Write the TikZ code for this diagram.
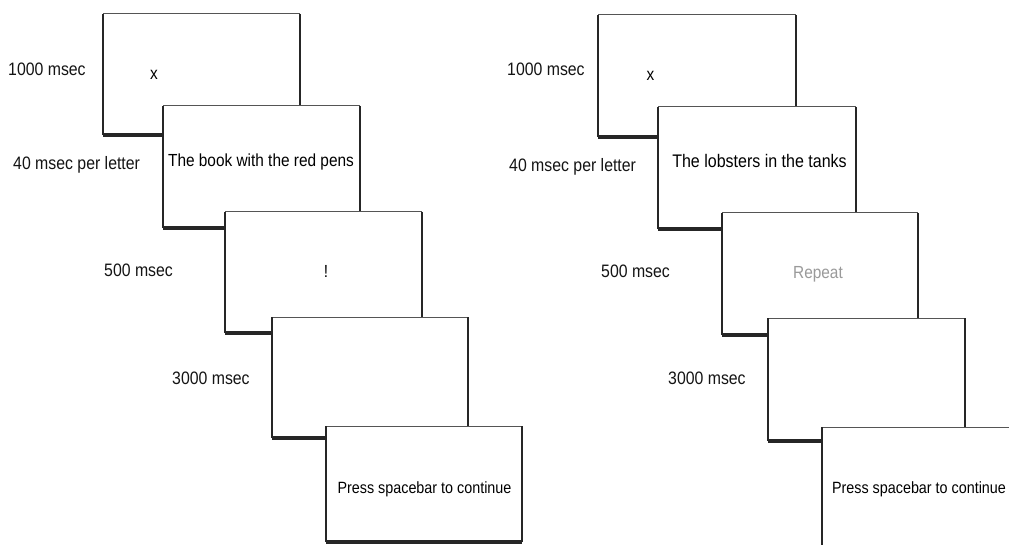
\documentclass[tikz,border=0pt]{standalone}
\usepackage{fontspec}
\setmainfont{Liberation Sans}
\newfontfamily\condfont[FakeStretch=0.88]{Liberation Sans}
\definecolor{edgedark}{HTML}{262626}
\definecolor{edgetop}{HTML}{555555}
\definecolor{repeatgray}{HTML}{9A9A9A}
\tikzset{
  screenbox/.style={fill=white, draw=none, inner sep=0pt, outer sep=0pt},
  topedge/.style={draw=edgetop, line width=1pt},
  sideedge/.style={draw=edgedark, line width=2.2pt, line cap=square},
  bottomedge/.style={draw=edgedark, line width=3.2pt, line cap=square},
  lbl/.style={font=\condfont\fontsize{18}{20}\selectfont, text=black!92, inner sep=0pt, anchor=base west},
  scrtxt/.style={font=\condfont\fontsize{17.5}{20}\selectfont, text=black, inner sep=0pt, anchor=base}
}
\newcommand\stimscreen[5]{%
  \node[screenbox, minimum width={(#4)-(#2)}, minimum height={(#5)-(#3)}] (#1) at ({((#2)+(#4))/2},{((#3)+(#5))/2}) {};
  \draw[topedge] (#1.north west) -- (#1.north east);
  \draw[sideedge] (#1.north west) -- (#1.south west);
  \draw[sideedge] (#1.north east) -- (#1.south east);
  \draw[bottomedge] (#1.south west) -- (#1.south east);
}
\begin{document}
\begin{tikzpicture}[x=1pt,y=-1pt]
\useasboundingbox (0,0) rectangle (1009,545);
\clip (0,0) rectangle (1009,545);
\fill[white] (0,0) rectangle (1009,545);
% left sequence
\stimscreen{L1}{103}{14}{300}{135}
\stimscreen{L2}{163}{106}{360}{228}
\stimscreen{L3}{225}{212}{422}{333}
\stimscreen{L4}{272}{317}{468}{438}
\stimscreen{L5}{326}{426}{522}{542}
% right sequence
\stimscreen{R1}{598}{15}{796}{137}
\stimscreen{R2}{658}{107}{856}{229}
\stimscreen{R3}{722}{213}{918}{335}
\stimscreen{R4}{768}{318}{965}{441}
\stimscreen{R5}{822}{427}{1019}{549}
% screen texts
\node[scrtxt] (tL1) at (154,80) {x};
\node[scrtxt] (tL2) at (261,167) {The book with the red pens};
\node[scrtxt] (tL3) at (326,278) {!};
\node[scrtxt, font=\condfont\fontsize{16.3}{19}\selectfont] (tL5) at (424.5,493) {Press spacebar to continue};
\node[scrtxt] (tR1) at (650.5,81) {x};
\node[scrtxt, font=\condfont\fontsize{18.2}{20}\selectfont] (tR2) at (759.5,168) {The lobsters in the tanks};
\node[scrtxt, text=repeatgray] (tR3) at (818,279) {Repeat};
\node[scrtxt, font=\condfont\fontsize{16.3}{19}\selectfont] (tR5) at (919,493) {Press spacebar to continue};
% timing labels
\node[lbl] (aL1) at (8,75.5) {1000 msec};
\node[lbl] (aL2) at (13,170) {40 msec per letter};
\node[lbl] (aL3) at (104,277) {500 msec};
\node[lbl] (aL4) at (172,384) {3000 msec};
\node[lbl] (aR1) at (507,76) {1000 msec};
\node[lbl] (aR2) at (509,172) {40 msec per letter};
\node[lbl] (aR3) at (601,278) {500 msec};
\node[lbl] (aR4) at (668,384) {3000 msec};
\end{tikzpicture}
\end{document}
